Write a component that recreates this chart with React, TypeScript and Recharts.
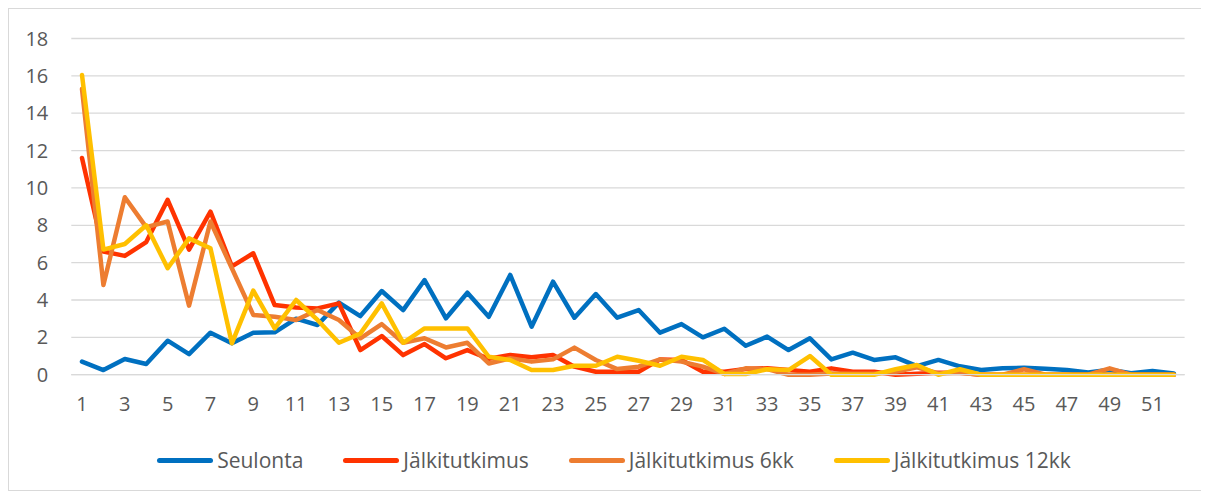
import React from "react";
import { LineChart, Line, XAxis, YAxis, CartesianGrid, Legend } from "recharts";

const categories: number[] = Array.from({ length: 52 }, (_, i) => i + 1);

const seulonta: number[] = [
  0.7, 0.25, 0.84, 0.57, 1.82, 1.1, 2.25, 1.68, 2.25, 2.27,
  3.0, 2.66, 3.86, 3.14, 4.48, 3.46, 5.07, 3.02, 4.39, 3.1,
  5.34, 2.57, 4.98, 3.05, 4.32, 3.05, 3.46, 2.25, 2.71, 2.0,
  2.46, 1.55, 2.04, 1.32, 1.95, 0.82, 1.18, 0.79, 0.93, 0.46,
  0.79, 0.45, 0.25, 0.34, 0.37, 0.32, 0.25, 0.12, 0.27, 0.08,
  0.2, 0.07,
];

const jalkitutkimus: number[] = [
  11.6, 6.6, 6.36, 7.1, 9.36, 6.7, 8.73, 5.8, 6.5, 3.73,
  3.6, 3.55, 3.82, 1.32, 2.07, 1.05, 1.64, 0.88, 1.32, 0.85,
  1.05, 0.93, 1.05, 0.43, 0.16, 0.16, 0.16, 0.82, 0.79, 0.16,
  0.16, 0.3, 0.35, 0.25, 0.16, 0.34, 0.16, 0.16, 0.0, 0.05,
  0.1, 0.1, 0, 0, 0, 0, 0, 0, 0, 0,
  0, 0,
];

const jalkitutkimus6kk: number[] = [
  15.3, 4.8, 9.5, 7.9, 8.2, 3.7, 8.2, 5.7, 3.2, 3.1,
  2.93, 3.46, 2.93, 1.95, 2.71, 1.71, 1.95, 1.46, 1.71, 0.6,
  0.88, 0.7, 0.82, 1.45, 0.79, 0.3, 0.43, 0.82, 0.7, 0.43,
  0.04, 0.34, 0.3, 0, 0, 0.07, 0.05, 0.05, 0.16, 0.4,
  0.07, 0.1, 0, 0, 0.29, 0, 0, 0, 0.34, 0,
  0, 0,
];

const jalkitutkimus12kk: number[] = [
  16.05, 6.7, 7.0, 8.0, 5.7, 7.3, 6.77, 1.68, 4.5, 2.48,
  4.0, 2.93, 1.71, 2.2, 3.82, 1.71, 2.48, 2.48, 2.48, 0.96,
  0.79, 0.25, 0.25, 0.48, 0.48, 0.96, 0.75, 0.48, 0.96, 0.79,
  0.04, 0.04, 0.29, 0.25, 1.0, 0, 0, 0, 0.29, 0.52,
  0, 0.29, 0, 0, 0, 0, 0, 0, 0, 0,
  0, 0,
];

const yTicks: number[] = [0, 2, 4, 6, 8, 10, 12, 14, 16, 18];

const seriesNames: string[] = ["Seulonta", "Jälkitutkimus", "Jälkitutkimus 6kk", "Jälkitutkimus 12kk"];
const seriesKeys: string[] = ["s", "j", "j6", "j12"];
const seriesColors: string[] = ["#0070C0", "#FF3300", "#ED7D31", "#FFC000"];

const data = categories.map((c, i) => ({
  cat: c,
  s: seulonta[i],
  j: jalkitutkimus[i],
  j6: jalkitutkimus6kk[i],
  j12: jalkitutkimus12kk[i],
}));

const FONT = "'Open Sans', 'Noto Sans', sans-serif";
const TEXT = "#595959";

const LegendContent = () => (
  <div
    style={{
      display: "flex",
      justifyContent: "center",
      alignItems: "center",
      height: 22,
      paddingLeft: 15,
      fontFamily: FONT,
      fontSize: 21,
      lineHeight: "22px",
      color: TEXT,
    }}
  >
    {seriesNames.map((n, i) => (
      <div key={n} style={{ display: "flex", alignItems: "center", marginRight: i < 3 ? 40 : 0 }}>
        <div style={{ width: 56, height: 5, borderRadius: 3, background: seriesColors[i], marginRight: 4 }} />
        <span>{n}</span>
      </div>
    ))}
  </div>
);

export default function App() {
  return (
    <div
      style={{
        width: 1195,
        height: 481,
        border: "1px solid #d9d9d9",
        background: "#fff",
        position: "relative",
      }}
    >
      <LineChart
        width={1195}
        height={481}
        data={data}
        margin={{ top: 29.5, right: 19.4, bottom: 65.3, left: 0 }}
      >
        <CartesianGrid vertical={false} stroke="#d9d9d9" strokeWidth={1.3} />
        <XAxis
          dataKey="cat"
          interval={1}
          tickLine={false}
          tickSize={0}
          tickMargin={22}
          height={50}
          padding={{ left: 10.7, right: 10.7 }}
          axisLine={{ stroke: "#d9d9d9", strokeWidth: 1.3 }}
          tick={{ fill: TEXT, fontSize: 20, fontFamily: FONT }}
        />
        <YAxis
          domain={[0, 18]}
          ticks={yTicks}
          width={62.3}
          axisLine={false}
          tickLine={false}
          tickSize={0}
          tickMargin={23}
          tick={{ fill: TEXT, fontSize: 20, fontFamily: FONT }}
        />
        <Legend
          layout="horizontal"
          verticalAlign="middle"
          align="center"
          wrapperStyle={{ top: 440, left: 0, width: 1195 }}
          content={<LegendContent />}
        />
        {seriesKeys.map((k, i) => (
          <Line
            key={k}
            type="linear"
            dataKey={k}
            name={seriesNames[i]}
            stroke={seriesColors[i]}
            strokeWidth={4.5}
            strokeLinecap="round"
            strokeLinejoin="round"
            dot={false}
            activeDot={false}
            isAnimationActive={false}
          />
        ))}
      </LineChart>
    </div>
  );
}
